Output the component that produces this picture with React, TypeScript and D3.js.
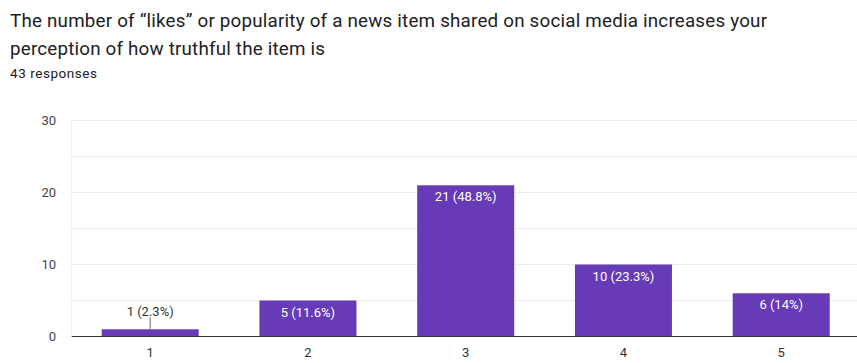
import React from "react";
import * as d3 from "d3";

const categories = ["1", "2", "3", "4", "5"];
const counts = [1, 5, 21, 10, 6];
const percents = ["2.3%", "11.6%", "48.8%", "23.3%", "14%"];
const yTicks = [0, 10, 20, 30];
const gridTicks = [5, 10, 15, 20, 25, 30];
const titleLines = [
  "The number of \u201clikes\u201d or popularity of a news item shared on social media increases your",
  "perception of how truthful the item is",
];
const titleWidths = [757, 315];
const subtitle = "43 responses";

const W = 857;
const H = 363;
const left = 71.7;
const right = 859.7;
const top = 120.5;
const bottom = 336.5;
const purple = "#673ab7";
const font = "Roboto, Arial, sans-serif";

export default function App() {
  const x = d3.scaleBand<string>().domain(categories).range([left, right]).paddingInner(0.385).paddingOuter(0.19);
  const y = d3.scaleLinear().domain([0, 30]).range([bottom, top]);
  return (
    <svg width={W} height={H} style={{ position: "absolute", left: 0, top: 0, background: "#fff" }}>
      {titleLines.map((t, i) => (
        <text key={i} x={10} y={26.5 + i * 28.5} fontFamily={font} fontSize={18.8} fill="#202124" textLength={titleWidths[i]} lengthAdjust="spacing">
          {t}
        </text>
      ))}
      <text x={10} y={78} fontFamily={font} fontSize={13.5} fill="#202124" textLength={87} lengthAdjust="spacing">
        {subtitle}
      </text>
      {gridTicks.map((t) => (
        <line key={t} x1={left} x2={W} y1={y(t)} y2={y(t)} stroke="#ececec" strokeWidth={1} />
      ))}
      <line x1={left} x2={left} y1={top} y2={bottom} stroke="#ececec" strokeWidth={1} />
      {yTicks.map((t) => (
        <text key={t} x={56} y={y(t) + 4.5} textAnchor="end" fontFamily={font} fontSize={13} fill="#444">
          {t}
        </text>
      ))}
      {categories.map((c, i) => {
        const bx = x(c)!;
        const bw = x.bandwidth();
        const by = y(counts[i]);
        const label = `${counts[i]} (${percents[i]})`;
        const inside = bottom - by > 20;
        return (
          <g key={c}>
            <rect x={bx} y={by} width={bw} height={bottom - by} fill={purple} />
            {inside ? (
              <text x={bx + bw / 2} y={by + 16} textAnchor="middle" fontFamily={font} fontSize={13} fill="#fff">
                {label}
              </text>
            ) : (
              <g>
                <line x1={bx + bw / 2} x2={bx + bw / 2} y1={by - 12} y2={by} stroke="#666" strokeWidth={1} />
                <text x={bx + bw / 2} y={by - 13} textAnchor="middle" fontFamily={font} fontSize={13} fill="#333">
                  {label}
                </text>
              </g>
            )}
            <text x={bx + bw / 2} y={357} textAnchor="middle" fontFamily={font} fontSize={13} fill="#333">
              {c}
            </text>
          </g>
        );
      })}
      <line x1={left} x2={W} y1={bottom} y2={bottom} stroke="#333" strokeWidth={1} />
    </svg>
  );
}
